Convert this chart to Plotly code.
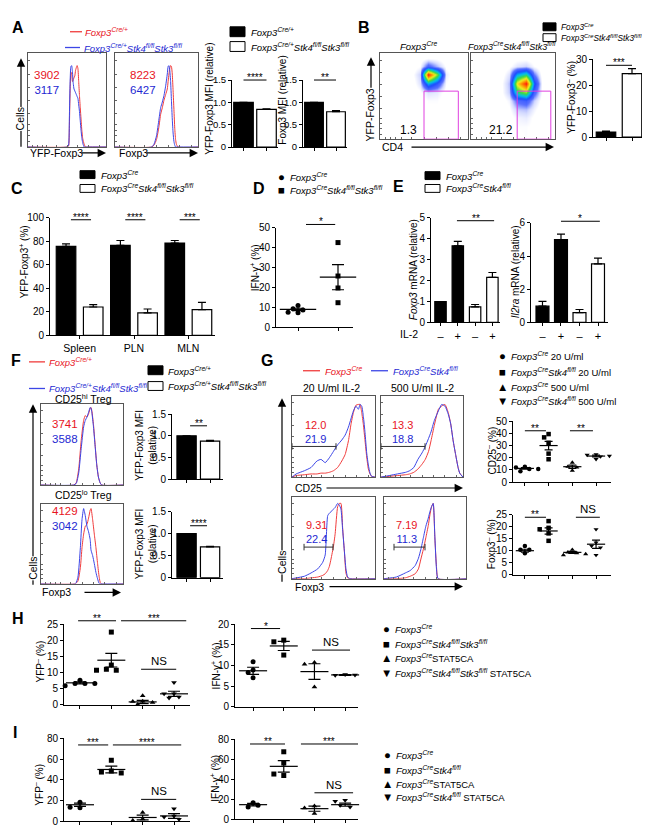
import plotly.graph_objects as go

W, H = 650, 826
FONT = "Arial, Liberation Sans, Helvetica, sans-serif"
RED_LINE, BLUE_LINE = "#f03c3c", "#3c46e6"
RED_TXT, BLUE_TXT = "#e8141e", "#1e28d2"
LEG = 9.5

# ======================= DATA =======================
# ---- A: flow histograms (channel 0-100, % of max) ----
A_hist1_x = [0, 50, 52, 53, 54, 55, 56, 57, 58, 59, 60, 61, 62, 63, 64, 65, 66, 67, 68, 69, 70, 71, 72, 73, 74, 76, 100]
A_hist1_cre = [0, 0, 1, 20, 60, 80, 78, 70, 72, 74, 76, 82, 85, 87, 84, 70, 55, 42, 30, 18, 10, 6, 3, 1, 0, 0, 0]
A_hist1_dko = [0, 0, 2, 30, 70, 86, 87, 80, 68, 62, 60, 58, 56, 54, 52, 45, 38, 28, 18, 10, 5, 2, 0, 0, 0, 0, 0]
A_hist2_x = [0, 44, 47, 50, 53, 55, 57, 59, 61, 63, 64, 65, 66, 67, 68, 69, 70, 71, 72, 73, 74, 76, 100]
A_hist2_cre = [0, 0, 2, 8, 22, 35, 42, 50, 56, 62, 70, 78, 84, 87, 86, 78, 60, 40, 20, 8, 3, 0, 0]
A_hist2_dko = [0, 0, 3, 12, 30, 42, 48, 55, 65, 78, 86, 87, 82, 70, 50, 30, 15, 6, 2, 0, 0, 0, 0]
A_hist1_mfi = ["3902", "3117"]
A_hist2_mfi = ["8223", "6427"]
A_mfi1 = [1.0, 0.845]
A_mfi1_err = [0.0, 0.012]
A_mfi2 = [1.0, 0.79]
A_mfi2_err = [0.0, 0.025]
A_sig = ["****", "**"]

# ---- B: density plots (rows: YFP-Foxp3 low->high, cols: CD4 low->high) ----
B_grid = [5, 15, 25, 35, 45, 55, 65, 75, 85, 95]
B_density_cre = [
    [0, 0, 0, 0, 0, 2, 2, 0, 0, 0],
    [0, 0, 0, 0, 0, 2, 2, 0, 0, 0],
    [0, 0, 0, 0, 0, 2, 2, 1, 0, 0],
    [0, 0, 0, 0, 0, 2, 2, 0, 0, 0],
    [0, 0, 0, 0, 1, 3, 3, 1, 0, 0],
    [0, 0, 0, 0, 2, 6, 5, 1, 0, 0],
    [0, 0, 0, 0, 6, 35, 22, 3, 0, 0],
    [0, 0, 0, 1, 8, 90, 55, 5, 0, 0],
    [0, 0, 0, 0, 3, 18, 10, 2, 0, 0],
    [0, 0, 0, 0, 0, 1, 1, 0, 0, 0],
]
B_density_dko = [
    [0, 0, 0, 0, 0, 2, 3, 1, 0, 0],
    [0, 0, 0, 0, 0, 3, 3, 2, 0, 0],
    [0, 0, 0, 0, 1, 4, 5, 2, 0, 0],
    [0, 0, 0, 0, 2, 8, 9, 4, 0, 0],
    [0, 0, 0, 0, 4, 16, 20, 8, 1, 0],
    [0, 0, 0, 1, 8, 45, 55, 18, 2, 0],
    [0, 0, 0, 1, 9, 65, 90, 28, 2, 0],
    [0, 0, 0, 0, 6, 35, 45, 14, 1, 0],
    [0, 0, 0, 0, 2, 6, 8, 3, 0, 0],
    [0, 0, 0, 0, 0, 1, 1, 0, 0, 0],
]
B_gate_pct = ["1.3", "21.2"]
B_bar = [2.0, 24.5]
B_bar_err = [0.3, 1.9]
B_sig = "***"

# ---- C ----
C_tissues = ["Spleen", "PLN", "MLN"]
C_cre = [75.8, 76.6, 78.6]
C_cre_err = [2.2, 4.2, 2.2]
C_dko = [24.1, 19.1, 21.9]
C_dko_err = [2.0, 3.3, 6.2]
C_sig = ["****", "****", "***"]

# ---- D ----
D_cre = [11.0, 9.3, 8.7, 7.6, 7.4]
D_dko = [42.6, 25.8, 19.8, 12.4]
D_mean = [9.0, 25.2]
D_sem = [0.6, 6.3]

# ---- E ----
E_il2 = ["–", "+", "–", "+"]
E_foxp3 = [1.0, 3.67, 0.75, 2.16]
E_foxp3_err = [0.0, 0.21, 0.11, 0.23]
E_il2ra = [0.98, 5.0, 0.59, 3.53]
E_il2ra_err = [0.29, 0.33, 0.19, 0.35]

# ---- F ----
F_hist1_x = [0, 40, 43, 46, 49, 52, 54, 56, 58, 60, 61, 62, 64, 66, 68, 70, 72, 74, 100]
F_hist1_cre = [0, 0, 3, 20, 55, 80, 86, 84, 88, 95, 96, 92, 75, 50, 25, 10, 3, 0, 0]
F_hist1_dko = [0, 0, 2, 15, 45, 72, 80, 84, 90, 96, 95, 90, 72, 48, 25, 10, 3, 0, 0]
F_hist2_x = [0, 42, 45, 48, 50, 52, 54, 56, 58, 60, 61, 63, 65, 67, 69, 71, 73, 100]
F_hist2_cre = [0, 0, 3, 20, 45, 62, 72, 74, 82, 92, 94, 80, 62, 45, 25, 8, 0, 0]
F_hist2_dko = [0, 0, 8, 45, 80, 94, 85, 72, 65, 55, 42, 35, 25, 14, 6, 0, 0, 0]
F_hist1_mfi = ["3741", "3588"]
F_hist2_mfi = ["4129", "3042"]
F_mfi_hi = [1.0, 0.877]
F_mfi_hi_err = [0.0, 0.015]
F_mfi_lo = [1.0, 0.70]
F_mfi_lo_err = [0.0, 0.012]

# ---- G ----
G_cd25_20_x = [0, 5, 15, 23, 30, 35, 40, 45, 50, 55, 60, 64, 68, 71, 74, 77, 80, 82, 84, 86, 88, 90, 92, 94, 96, 100]
G_cd25_20_cre = [0, 2, 3, 4, 4, 5, 5, 6, 8, 12, 20, 28, 45, 65, 80, 89, 90, 90, 80, 65, 45, 25, 10, 4, 1, 0]
G_cd25_20_ko = [0, 4, 8, 12, 20, 22, 18, 24, 32, 40, 46, 52, 62, 72, 82, 88, 84, 90, 88, 75, 55, 30, 15, 5, 1, 0]
G_cd25_500_x = [0, 10, 20, 30, 35, 40, 45, 50, 54, 58, 61, 65, 70, 74, 78, 82, 85, 88, 91, 94, 96, 100]
G_cd25_500_cre = [0, 1, 2, 3, 4, 6, 10, 16, 22, 32, 45, 64, 84, 88, 90, 80, 66, 45, 28, 12, 5, 0]
G_cd25_500_ko = [0, 2, 4, 6, 8, 12, 22, 30, 38, 48, 56, 70, 82, 90, 88, 78, 66, 45, 28, 12, 5, 0]
G_fox_20_x = [0, 15, 23, 31, 37, 40, 43, 45, 47, 50, 52, 55, 57, 59, 61, 63, 65, 67, 70, 100]
G_fox_20_cre = [0, 0, 1, 2, 4, 6, 10, 15, 24, 40, 55, 88, 92, 92, 62, 35, 7, 1, 0, 0]
G_fox_20_ko = [0, 3, 7, 12, 20, 29, 77, 80, 82, 85, 87, 92, 90, 85, 60, 35, 12, 2, 0, 0]
G_fox_500_x = [0, 15, 26, 32, 38, 42, 45, 48, 51, 54, 56, 58, 60, 62, 64, 66, 100]
G_fox_500_cre = [0, 0, 1, 3, 6, 12, 24, 36, 50, 65, 78, 88, 92, 50, 15, 0, 0]
G_fox_500_ko = [0, 2, 7, 10, 16, 25, 36, 50, 64, 74, 82, 88, 92, 52, 12, 0, 0]
G_gate_cd25 = [["12.0", "21.9"], ["13.3", "18.8"]]
G_gate_fox = [["9.31", "22.4"], ["7.19", "11.3"]]
G_cd25neg = [[12.6, 12.0, 10.7, 10.7, 8.8], [39.3, 36.6, 32.1, 23.3, 18.7],
             [16.0, 12.6, 12.0, 9.4], [22.7, 22.2, 20.9, 21.4, 18.7]]
G_cd25neg_mean = [11.2, 29.9, 12.6, 21.3]
G_cd25neg_sem = [0.6, 3.5, 1.3, 0.7]
G_foxneg = [[12.0, 10.4, 10.4, 9.6, 8.9], [22.3, 19.5, 18.9, 17.2, 14.1],
            [10.4, 9.3, 9.0, 8.2, 8.6], [18.9, 13.4, 12.0, 11.3, 8.2]]
G_foxneg_mean = [10.0, 18.2, 9.3, 12.7]
G_foxneg_sem = [0.6, 1.3, 0.4, 1.7]

# ---- H ----
H_yfp = [[7.6, 6.6, 6.6, 5.9, 6.6], [22.5, 12.3, 11.0, 10.7, 10.7],
         [2.8, 1.1, 1.0, 0.7, 0.1], [6.9, 3.4, 3.4, 2.1, 2.4]]
H_yfp_mean = [6.8, 13.8, 0.9, 3.4]
H_yfp_sem = [0.3, 2.1, 0.5, 0.8]
H_ifn = [[10.9, 8.9, 8.3, 7.0], [16.1, 15.7, 12.5], [10.7, 10.3, 4.8], [7.8, 7.6, 7.7]]
H_ifn_mean = [8.7, 14.7, 8.5, 7.7]
H_ifn_sem = [0.85, 1.1, 1.9, 0.1]

# ---- I ----
I_yfp = [[18.3, 12.9, 13.3], [58.8, 48.4, 47.4, 46.5], [8.2, 2.0, 0.5], [12.0, 5.0, 4.0, 1.9]]
I_yfp_mean = [15.8, 49.9, 3.5, 5.0]
I_yfp_sem = [1.6, 3.2, 2.3, 2.3]
I_ifn = [[16.5, 12.2, 13.9], [67.5, 56.2, 43.7, 45.2], [13.2, 11.2, 5.6], [18.8, 17.9, 13.9, 12.2]]
I_ifn_mean = [14.5, 52.9, 10.5, 14.5]
I_ifn_sem = [1.3, 5.7, 2.6, 1.6]

# ---- labels ----
CRE = "<i>Foxp3<sup>Cre</sup></i>"
CRE_HET = "<i>Foxp3<sup>Cre/+</sup></i>"
DKO = "<i>Foxp3<sup>Cre</sup>Stk4<sup>fl/fl</sup>Stk3<sup>fl/fl</sup></i>"
DKO_HET = "<i>Foxp3<sup>Cre/+</sup>Stk4<sup>fl/fl</sup>Stk3<sup>fl/fl</sup></i>"
KO = "<i>Foxp3<sup>Cre</sup>Stk4<sup>fl/fl</sup></i>"

# ======================= HELPERS =======================
fig = go.Figure()
ANN, SHP, AXES = [], [], {}
_count = [0]


def fx(p):
    return p / W


def fy(p):
    return 1 - p / H


BASE_AX = dict(showgrid=False, zeroline=False, showline=True, linecolor="black", linewidth=1,
               ticks="outside", ticklen=3, tickwidth=1, tickcolor="black",
               tickfont=dict(size=10, color="black", family=FONT), fixedrange=True)


class Axes:
    def __init__(self, l, r, t, b, xr, yr, xkw=None, ykw=None):
        _count[0] += 1
        n = _count[0]
        s = "" if n == 1 else str(n)
        self.xref, self.yref = "x" + s, "y" + s
        self.l, self.r, self.t, self.b = l, r, t, b
        self.xr, self.yr = xr, yr
        xa = dict(BASE_AX, domain=[fx(l), fx(r)], range=xr, anchor=self.yref)
        ya = dict(BASE_AX, domain=[fy(b), fy(t)], range=yr, anchor=self.xref)
        if xkw:
            xa.update(xkw)
        if ykw:
            ya.update(ykw)
        AXES["xaxis" + s] = xa
        AXES["yaxis" + s] = ya

    def px(self, v):
        return self.l + (v - self.xr[0]) / (self.xr[1] - self.xr[0]) * (self.r - self.l)

    def py(self, v):
        return self.b - (v - self.yr[0]) / (self.yr[1] - self.yr[0]) * (self.b - self.t)


def text(x, y, s, size=10, color="black", xanchor="center", yanchor="middle", angle=0, bg=None):
    d = dict(x=fx(x), y=fy(y), xref="paper", yref="paper", text=s, showarrow=False,
             font=dict(size=size, color=color, family=FONT), xanchor=xanchor, yanchor=yanchor,
             textangle=angle, borderpad=0)
    if bg:
        d["bgcolor"] = bg
    ANN.append(d)


def pair(x, y, a, b, size=11):
    s = "<span style='color:%s'>%s</span><br><span style='color:%s'>%s</span>" % (RED_TXT, a, BLUE_TXT, b)
    text(x, y, s, size=size)


def letter(x, y, s):
    text(x, y, "<b>%s</b>" % s, size=16, xanchor="left")


def hline(x0, x1, y, color="black", width=1):
    SHP.append(dict(type="line", xref="paper", yref="paper", x0=fx(x0), x1=fx(x1),
                    y0=fy(y), y1=fy(y), line=dict(color=color, width=width)))


def rect(x0, y0, x1, y1, fill):
    SHP.append(dict(type="rect", xref="paper", yref="paper", x0=fx(x0), x1=fx(x1),
                    y0=fy(y1), y1=fy(y0), fillcolor=fill, line=dict(color="black", width=1)))


def arrow(x0, y0, x1, y1):
    ANN.append(dict(x=fx(x1), y=fy(y1), xref="paper", yref="paper", ax=x0 - x1, ay=y0 - y1,
                    axref="pixel", ayref="pixel", text="", showarrow=True, arrowhead=2,
                    arrowsize=1.4, arrowwidth=1.2, arrowcolor="black", standoff=0))


def sig(ax, xa, xb, yv, label):
    y = ax.py(yv)
    x0, x1 = ax.px(xa), ax.px(xb)
    hline(x0, x1, y)
    if "*" in label:
        text((x0 + x1) / 2, y + 4, label, size=10, yanchor="bottom")
    else:
        text((x0 + x1) / 2, y - 1, label, size=11.5, yanchor="bottom")


FLOW_TICKS = [6, 12, 18, 24, 36, 50, 64, 78, 92]


def flow_axes(l, r, t, b):
    kw = dict(mirror=True, ticks="inside", ticklen=2, tickcolor="#666", linecolor="#555",
              showticklabels=False, tickvals=FLOW_TICKS)
    return Axes(l, r, t, b, [0, 100], [0, 100], xkw=dict(kw), ykw=dict(kw))


def hist(ax, xs, cre, ko):
    for ys, c in ((cre, RED_LINE), (ko, BLUE_LINE)):
        fig.add_trace(go.Scatter(x=xs, y=ys, mode="lines",
                                 line=dict(color=c, width=1, shape="spline", smoothing=0.5),
                                 xaxis=ax.xref, yaxis=ax.yref, showlegend=False, hoverinfo="skip"))


def bars(ax, xs, vals, errs, colors, width):
    fig.add_trace(go.Bar(x=xs, y=vals, width=width,
                         marker=dict(color=colors, line=dict(color="black", width=1.2)),
                         error_y=dict(type="data", symmetric=False, array=errs,
                                      arrayminus=[0] * len(errs), color="black", thickness=1.2, width=4),
                         xaxis=ax.xref, yaxis=ax.yref, showlegend=False, hoverinfo="skip"))


def swarm(ax, pts, size):
    ppu = (ax.r - ax.l) / (ax.xr[1] - ax.xr[0])
    vpu = (ax.b - ax.t) / (ax.yr[1] - ax.yr[0])
    placed, offs = [], []
    d = size * 1.1
    for v in pts:
        py = v * vpu
        dx = 0
        for k in [0, -1, 1, -2, 2, -3, 3, -4, 4]:
            dx = k * d * 0.9
            if all((dx - qx) ** 2 + (py - qy) ** 2 >= d * d for qx, qy in placed):
                break
        placed.append((dx, py))
        offs.append(dx / ppu)
    return offs


SYMS = ["circle", "square", "triangle-up", "triangle-down"]


def dots(ax, groups, means, sems, msize=5, mean_w=20, cap=6):
    for g, pts in enumerate(groups):
        offs = swarm(ax, pts, msize)
        fig.add_trace(go.Scatter(x=[g + o for o in offs], y=pts, mode="markers",
                                 marker=dict(symbol=SYMS[g], size=msize, color="black", line=dict(width=0)),
                                 xaxis=ax.xref, yaxis=ax.yref, showlegend=False, cliponaxis=False,
                                 hoverinfo="skip"))
        fig.add_trace(go.Scatter(x=[g], y=[means[g]], mode="markers",
                                 marker=dict(symbol="line-ew", size=mean_w, color="black",
                                             line=dict(color="black", width=1.2)),
                                 error_y=dict(type="data", array=[sems[g]], color="black",
                                              thickness=1.2, width=cap),
                                 xaxis=ax.xref, yaxis=ax.yref, showlegend=False, cliponaxis=False,
                                 hoverinfo="skip"))


def glyph_legend(x, ys, labels, size=LEG):
    glyphs = ["●", "■", "▲", "▼"]
    for i, (y, lab) in enumerate(zip(ys, labels)):
        text(x, y, glyphs[i], size=size + 2)
        text(x + 8, y, lab, size=size, xanchor="left")


def ticks_y(vals, fmt=None):
    return dict(tickvals=vals, ticktext=[fmt(v) if fmt else str(v) for v in vals])


def cats(n):
    return dict(tickvals=list(range(n)), showticklabels=False)


# ======================= PANEL A =======================
letter(3, 14, "A")
hline(62, 74, 18, RED_LINE, 1.3)
text(76, 18, CRE_HET, size=LEG, color=RED_TXT, xanchor="left")
hline(57, 72, 34, BLUE_LINE, 1.3)
text(75, 34, DKO_HET, size=LEG, color=BLUE_TXT, xanchor="left")
rect(222, 13, 237, 23, "black")
text(242, 18, CRE_HET, size=LEG, xanchor="left")
rect(222, 28, 237, 38, "white")
text(242, 33, DKO_HET, size=LEG, xanchor="left")

a_h1 = flow_axes(20, 98, 40, 135)
hist(a_h1, A_hist1_x, A_hist1_cre, A_hist1_dko)
a_h2 = flow_axes(107, 190, 40, 135)
hist(a_h2, A_hist2_x, A_hist2_cre, A_hist2_dko)
pair(39, 69.5, A_hist1_mfi[0], A_hist1_mfi[1], size=11.5)
pair(135, 69.5, A_hist2_mfi[0], A_hist2_mfi[1], size=11.5)
arrow(13, 135, 13, 45)
text(12, 107, "Cells", size=10.5, angle=-90, bg="white")
text(21, 141, "YFP-Foxp3", size=10.5, xanchor="left")
arrow(72, 141, 98, 141)
text(110, 141, "Foxp3", size=10.5, xanchor="left")
arrow(137, 141, 190, 141)

ybar15 = ticks_y([0, 0.5, 1.0, 1.5], lambda v: "0" if v == 0 else "%.1f" % v)
ybar15_small = dict(ybar15, tickfont=dict(size=9.5, color="black", family=FONT))
a_b1 = Axes(224, 270, 67, 135, [-0.5, 1.5], [0, 1.5], xkw=cats(2), ykw=ybar15_small)
bars(a_b1, [0, 1], A_mfi1, A_mfi1_err, ["black", "white"], 0.85)
sig(a_b1, 0, 1, 1.5, A_sig[0])
text(202, 86, "YFP-Foxp3 MFI (relative)", angle=-90)
a_b2 = Axes(295, 339, 67, 135, [-0.5, 1.5], [0, 1.5], xkw=cats(2), ykw=ybar15_small)
bars(a_b2, [0, 1], A_mfi2, A_mfi2_err, ["black", "white"], 0.85)
sig(a_b2, 0, 1, 1.5, A_sig[1])
text(275, 88, "Foxp3 MFI (relative)", angle=-90)

# ======================= PANEL B =======================
letter(349, 14, "B")
rect(535, 9, 548, 17, "black")
text(552, 13, CRE, size=8.3, xanchor="left")
rect(535, 20, 548, 28, "white")
text(552, 24, DKO, size=8.3, xanchor="left")
text(410, 32, CRE, size=9.5)
text(504, 32, DKO, size=9)
CS = [[0, "#ffffff"], [0.03, "#ffffff"], [0.08, "#d4daff"], [0.16, "#5a70ff"], [0.28, "#1f4cff"],
      [0.42, "#00c0f0"], [0.56, "#40d840"], [0.7, "#f0f020"], [0.85, "#ff8a00"], [1, "#ff1a10"]]
for (l, r), dens, lab, lx, gx in (((372, 460), B_density_cre, B_gate_pct[0], 400, (50, 89)),
                                   ((463, 547), B_density_dko, B_gate_pct[1], 493, (55, 95))):
    axb = flow_axes(l, r, 40, 127)
    fig.add_trace(go.Heatmap(x=B_grid, y=B_grid, z=dens, colorscale=CS, zmin=0, showscale=False,
                             zsmooth="best", xaxis=axb.xref, yaxis=axb.yref, hoverinfo="skip"))
    SHP.append(dict(type="rect", xref=axb.xref, yref=axb.yref, x0=gx[0], x1=gx[1], y0=0, y1=56,
                    line=dict(color="#e040e0", width=1)))
    text(lx, 118, lab, size=12)
arrow(363, 76, 363, 44)
text(362, 103, "YFP-Foxp3", size=10.5, angle=-90)
text(384, 135, "CD4", size=10.5)
arrow(402, 135, 546, 135)
b_b = Axes(585, 637, 46, 125, [-0.5, 1.5], [0, 30], xkw=cats(2), ykw=ticks_y([0, 10, 20, 30]))
bars(b_b, [0, 1], B_bar, B_bar_err, ["black", "white"], 0.75)
sig(b_b, 0, 1, 27.7, B_sig)
text(563, 85, "YFP-Foxp3<sup>–</sup> (%)", angle=-90)

# ======================= PANEL C =======================
letter(2, 177, "C")
rect(72, 159, 87, 167, "black")
text(92, 163, CRE, size=LEG, xanchor="left")
rect(72, 173, 87, 181, "white")
text(92, 177, DKO, size=LEG, xanchor="left")
c_ax = Axes(42, 207, 207, 326, [-0.59, 5.48], [0, 100],
            xkw=dict(tickvals=[0.5, 2.5, 4.5], ticktext=C_tissues, tickfont=dict(size=10.5, family=FONT, color="black")),
            ykw=ticks_y([0, 20, 40, 60, 80, 100]))
c_x, c_v, c_e, c_c = [], [], [], []
for i in range(len(C_tissues)):
    c_x += [2 * i, 2 * i + 1]
    c_v += [C_cre[i], C_dko[i]]
    c_e += [C_cre_err[i], C_dko_err[i]]
    c_c += ["black", "white"]
bars(c_ax, c_x, c_v, c_e, c_c, 0.72)
for i, s in enumerate(C_sig):
    sig(c_ax, 2 * i + 0.18, 2 * i + 0.92, 98.5, s)
text(16, 252, "YFP-Foxp3<sup>+</sup> (%)", angle=-90)

# ======================= PANEL D =======================
letter(244, 177, "D")
glyph_legend(273, [165, 179], [CRE, DKO])
d_ax = Axes(268, 345, 217, 318, [-0.55, 1.375], [0, 50], xkw=cats(2),
            ykw=ticks_y([0, 10, 20, 30, 40, 50]))
dots(d_ax, [D_cre, D_dko], D_mean, D_sem, msize=5, mean_w=26, cap=6)
sig(d_ax, 0.2, 0.93, 51.7, "*")
text(247, 258, "IFN-γ<sup>+</sup> (%)", angle=-90)

# ======================= PANEL E =======================
letter(384, 175, "E")
rect(417, 160, 432, 168, "black")
text(437, 164, CRE, size=LEG, xanchor="left")
rect(417, 173, 432, 181, "white")
text(437, 177, KO, size=LEG, xanchor="left")
e_kw = dict(tickvals=[0, 1, 2, 3], ticktext=E_il2, tickfont=dict(size=11, family=FONT, color="black"))
e1 = Axes(423, 492, 207, 313, [-0.55, 3.44], [0, 5], xkw=e_kw, ykw=ticks_y([0, 1, 2, 3, 4, 5]))
bars(e1, [0, 1, 2, 3], E_foxp3, E_foxp3_err, ["black", "black", "white", "white"], 0.66)
sig(e1, 0.95, 3.1, 4.87, "**")
text(405, 260, "<i>Foxp3</i> mRNA (relative)", angle=-90)
e2 = Axes(523, 600, 212, 313, [-0.62, 3.54], [0, 6], xkw=e_kw, ykw=ticks_y([0, 2, 4, 6]))
bars(e2, [0, 1, 2, 3], E_il2ra, E_il2ra_err, ["black", "black", "white", "white"], 0.7)
sig(e2, 1.0, 3.1, 6.1, "*")
text(507, 262, "<i>Il2ra</i> mRNA (relative)", angle=-90)
text(401, 325, "IL-2", size=10.5)

# ======================= PANEL F =======================
letter(2, 352, "F")
hline(21, 37, 353, RED_LINE, 1.3)
text(40, 353, CRE_HET, size=LEG, color=RED_TXT, xanchor="left")
hline(21, 37, 380, BLUE_LINE, 1.3)
text(40, 380, DKO_HET, size=LEG, color=BLUE_TXT, xanchor="left")
rect(140, 357, 155, 366, "black")
text(159, 362, CRE_HET, size=LEG, xanchor="left")
rect(140, 373, 155, 382, "white")
text(159, 377, DKO_HET, size=LEG, xanchor="left")
text(75, 390, "CD25<sup>hi</sup> Treg", size=10.5)
f_h1 = flow_axes(33, 115, 396, 478)
hist(f_h1, F_hist1_x, F_hist1_cre, F_hist1_dko)
pair(57, 423.5, F_hist1_mfi[0], F_hist1_mfi[1], size=11.5)
text(75, 488, "CD25<sup>lo</sup> Treg", size=10.5)
f_h2 = flow_axes(33, 115, 497, 578)
hist(f_h2, F_hist2_x, F_hist2_cre, F_hist2_dko)
text(57, 504, F_hist2_mfi[0], size=11.5, color=RED_TXT)
text(57, 520, F_hist2_mfi[1], size=11.5, color=BLUE_TXT)
arrow(25, 578, 25, 396)
text(25, 563, "Cells", size=10.5, angle=-90, bg="white")
text(48, 587, "Foxp3", size=10.5)
arrow(75, 587, 113, 587)
f_b1 = Axes(164, 215, 406, 472, [-0.62, 1.55], [0, 1.5], xkw=cats(2), ykw=ybar15)
bars(f_b1, [0, 1], F_mfi_hi, F_mfi_hi_err, ["black", "white"], 0.82)
sig(f_b1, 0.15, 0.87, 1.23, "**")
text(138, 438, "YFP-Foxp3 MFI<br>(relative)", angle=-90)
f_b2 = Axes(164, 215, 505, 572, [-0.62, 1.55], [0, 1.5], xkw=cats(2), ykw=ybar15)
bars(f_b2, [0, 1], F_mfi_lo, F_mfi_lo_err, ["black", "white"], 0.82)
sig(f_b2, 0.15, 0.87, 1.18, "****")
text(138, 538, "YFP-Foxp3 MFI<br>(relative)", angle=-90)

# ======================= PANEL G =======================
letter(252, 352, "G")
hline(295, 312, 362, RED_LINE, 1.3)
text(316, 362, CRE, size=9.5, color=RED_TXT, xanchor="left")
hline(363, 380, 362, BLUE_LINE, 1.3)
text(384, 362, KO, size=9.5, color=BLUE_TXT, xanchor="left")
text(323, 380, "20 U/ml IL-2", size=10.5)
text(415, 380, "500 U/ml IL-2", size=10.5)


def gate(ax, x0, x1, y):
    for a, b, c, d in ((x0, y, x1, y), (x0, y - 4, x0, y + 4), (x1, y - 4, x1, y + 4)):
        SHP.append(dict(type="line", xref=ax.xref, yref=ax.yref, x0=a, y0=b, x1=c, y1=d,
                        line=dict(color="#333", width=1)))


g1 = flow_axes(284, 367, 388, 470)
hist(g1, G_cd25_20_x, G_cd25_20_cre, G_cd25_20_ko)
gate(g1, 0, 53, 38)
g2 = flow_axes(373, 455, 388, 470)
hist(g2, G_cd25_500_x, G_cd25_500_cre, G_cd25_500_ko)
gate(g2, 0, 53.7, 38)
g3 = flow_axes(284, 367, 490, 573)
hist(g3, G_fox_20_x, G_fox_20_cre, G_fox_20_ko)
gate(g3, 14.5, 49.4, 38.6)
g4 = flow_axes(376, 458, 490, 573)
hist(g4, G_fox_500_x, G_fox_500_cre, G_fox_500_ko)
gate(g4, 12.2, 50, 38.6)
for (cx, labs) in zip((307, 395), G_gate_cd25):
    pair(cx, 424, labs[0], labs[1], size=11)
for (cx, labs) in zip((308, 398), G_gate_fox):
    pair(cx, 526, labs[0], labs[1], size=11)
text(300, 481, "CD25", size=10.5)
arrow(317, 481, 455, 481)
text(301, 581, "Foxp3", size=10.5)
arrow(320, 581, 455, 581)
arrow(274, 575, 274, 390)
text(274, 557, "Cells", size=10.5, angle=-90, bg="white")

glyph_legend(494, [347, 363, 378, 393],
             [CRE + " 20 U/ml", KO + " 20 U/ml", CRE + " 500 U/ml", KO + " 500 U/ml"], size=9.5)
gs1 = Axes(505, 603, 413, 475, [-0.5, 3.63], [0, 50], xkw=cats(4),
           ykw=ticks_y([0, 10, 20, 30, 40, 50]))
dots(gs1, G_cd25neg, G_cd25neg_mean, G_cd25neg_sem, msize=4.5, mean_w=13, cap=4)
sig(gs1, 0, 0.89, 42, "**")
sig(gs1, 1.9, 2.87, 42, "**")
text(483, 443, "CD25<sup>–</sup> (%)", angle=-90)
gs2 = Axes(505, 603, 508, 569, [-0.5, 3.63], [0, 25], xkw=cats(4),
           ykw=ticks_y([0, 5, 10, 15, 20, 25]))
dots(gs2, G_foxneg, G_foxneg_mean, G_foxneg_sem, msize=4.5, mean_w=13, cap=4)
sig(gs2, 0, 0.89, 23.9, "**")
sig(gs2, 2.15, 3.16, 23.9, "NS")
text(483, 538, "Foxp3<sup>–</sup> (%)", angle=-90)

# ======================= PANEL H =======================
letter(3, 613, "H")
h1 = Axes(56, 182, 619, 701, [-0.51, 3.51], [0, 25], xkw=cats(4), ykw=ticks_y([0, 5, 10, 15, 20, 25]))
dots(h1, H_yfp, H_yfp_mean, H_yfp_sem, msize=5, mean_w=20, cap=6)
sig(h1, -0.06, 1.15, 26, "**")
sig(h1, 1.31, 3.39, 26, "***")
sig(h1, 1.95, 3.07, 11, "NS")
text(32, 657, "YFP<sup>–</sup> (%)", angle=-90)
h2 = Axes(227, 350, 619, 703, [-0.59, 3.42], [0, 20], xkw=cats(4), ykw=ticks_y([0, 5, 10, 15, 20]))
dots(h2, H_ifn, H_ifn_mean, H_ifn_sem, msize=5, mean_w=20, cap=6)
sig(h2, -0.07, 0.88, 18.9, "*")
sig(h2, 1.92, 3.16, 13.7, "NS")
text(208, 662, "IFN-γ<sup>+</sup> (%)", angle=-90)
glyph_legend(378, [624, 639, 654, 669],
             [CRE, DKO, "<i>Foxp3<sup>Cre</sup></i>STAT5CA", DKO + " STAT5CA"])

# ======================= PANEL I =======================
letter(4, 729, "I")
i1 = Axes(56, 182, 735, 819, [-0.51, 3.51], [0, 80], xkw=cats(4), ykw=ticks_y([0, 20, 40, 60, 80]))
dots(i1, I_yfp, I_yfp_mean, I_yfp_sem, msize=5, mean_w=20, cap=6)
sig(i1, -0.06, 0.9, 73.6, "***")
sig(i1, 1.05, 3.23, 73.6, "****")
sig(i1, 1.95, 3.07, 21, "NS")
text(30, 782, "YFP<sup>–</sup> (%)", angle=-90)
i2 = Axes(227, 350, 736, 817, [-0.59, 3.42], [0, 80], xkw=cats(4), ykw=ticks_y([0, 20, 40, 60, 80]))
dots(i2, I_ifn, I_ifn_mean, I_ifn_sem, msize=5, mean_w=20, cap=6)
sig(i2, -0.1, 1.04, 75.3, "**")
sig(i2, 1.56, 3.42, 75.3, "***")
sig(i2, 2.0, 3.26, 26.4, "NS")
text(207, 776, "IFN-γ<sup>+</sup> (%)", angle=-90)
glyph_legend(379, [752, 767, 781, 795],
             [CRE, KO, "<i>Foxp3<sup>Cre</sup></i>STAT5CA", KO + " STAT5CA"])

fig.update_layout(width=W, height=H, autosize=False, margin=dict(l=0, r=0, t=0, b=0),
                  paper_bgcolor="white", plot_bgcolor="rgba(0,0,0,0)", showlegend=False,
                  font=dict(family=FONT, color="black"), annotations=ANN, shapes=SHP, **AXES)
fig.write_html("out.html")
